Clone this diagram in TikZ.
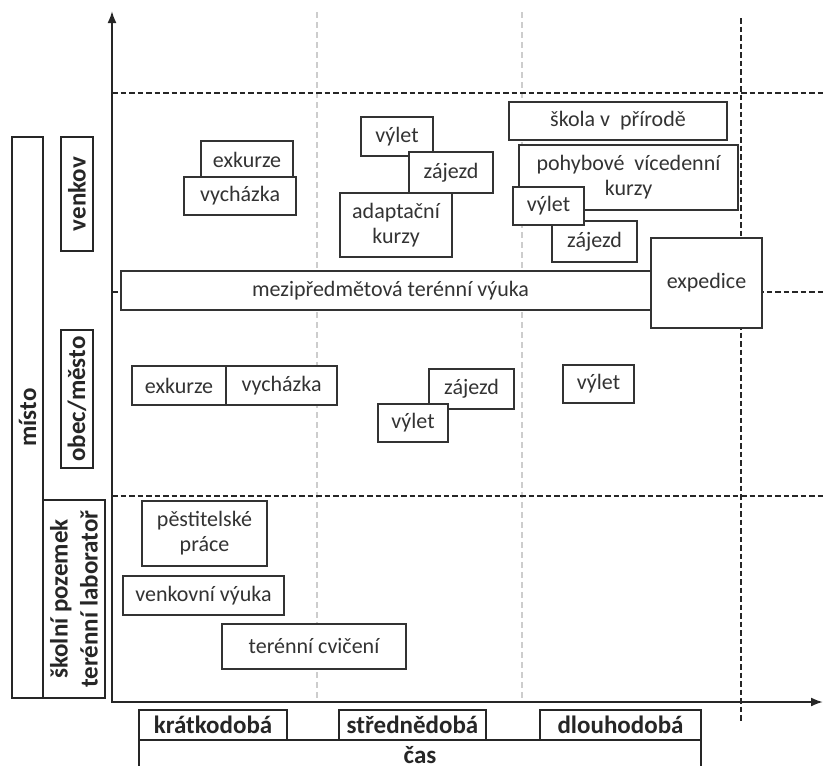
\documentclass[tikz,border=0pt]{standalone}
\usepackage{fontspec}
\setmainfont{Carlito}
\usetikzlibrary{arrows.meta}
\definecolor{ink}{HTML}{333333}
\definecolor{dark}{HTML}{262626}
\definecolor{gridgray}{HTML}{CDCDCD}
\tikzset{
  box/.style={draw=ink, line width=1.3pt, fill=white, inner sep=0pt, text=ink,
    font=\fontsize{22}{25}\selectfont, align=center},
  labelbox/.style={draw=dark, line width=2pt, fill=white, inner sep=0pt, text=dark,
    font=\fontsize{25}{30}\selectfont\bfseries, align=center},
  blackdash/.style={draw=dark, line width=1.8pt, dash pattern=on 5.5pt off 3pt},
  graydash/.style={draw=gridgray, line width=1.5pt, dash pattern=on 6pt off 4pt},
  axisline/.style={draw=dark, line width=2pt, {Latex[length=12pt,width=9pt]}-{Latex[length=12pt,width=9pt]}},
}
\newcommand\mkbox[7]{\node[#2, minimum width=#5-#3, minimum height=#6-#4] (#1) at ({(#3+#5)/2},{(#4+#6)/2}) {#7};}
\begin{document}
\begin{tikzpicture}[x=1pt,y=-1pt]
\useasboundingbox (0,0) rectangle (823,766);
% grid lines
\coordinate (g1t) at (317,12); \coordinate (g1b) at (317,702);
\coordinate (g2t) at (522,12); \coordinate (g2b) at (522,702);
\draw[graydash] (g1t) -- (g1b);
\draw[graydash] (g2t) -- (g2b);
\coordinate (vt) at (741,18); \coordinate (vb) at (741,722);
\draw[blackdash] (vt) -- (vb);
\coordinate (h1l) at (112,93); \coordinate (h1r) at (823,93);
\coordinate (h2l) at (112,292); \coordinate (h2r) at (823,292);
\coordinate (h3l) at (112,496); \coordinate (h3r) at (823,496);
\draw[blackdash] (h1l) -- (h1r);
\draw[blackdash] (h2l) -- (h2r);
\draw[blackdash] (h3l) -- (h3r);
% axes
\coordinate (O) at (112,702); \coordinate (ytip) at (112,11); \coordinate (xtip) at (823,702);
\draw[axisline] (ytip) -- (O) -- (xtip);
% venkov boxes
\mkbox{exA}{box}{201}{141}{293}{178}{exkurze}
\mkbox{vyA}{box}{184}{177}{296}{215}{vycházka}
\mkbox{vlA}{box}{361}{117}{433}{156}{výlet}
\mkbox{zaA}{box}{409}{152}{493}{193}{zájezd}
\mkbox{adA}{box}{340}{193}{452}{257}{adaptační\\kurzy}
\mkbox{sk}{box}{509}{102}{727}{140}{škola v\ \ přírodě}
\mkbox{po}{box}{519}{145}{738}{210}{pohybové\ \ vícedenní\\kurzy}
\mkbox{zaB}{box}{552}{221}{637}{262}{zájezd}
\mkbox{vlB}{box}{513}{187}{584}{225}{výlet}
\mkbox{mez}{box}{121}{271}{660}{310}{mezipředmětová terénní výuka}
\mkbox{expe}{box}{651}{238}{762}{328}{expedice}
% obec boxes
\mkbox{exB}{box}{132}{366}{226}{405}{exkurze}
\mkbox{vyB}{box}{226}{366}{337}{405}{vycházka}
\mkbox{zaC}{box}{429}{369}{514}{409}{zájezd}
\mkbox{vlC}{box}{378}{404}{448}{442}{výlet}
\mkbox{vlD}{box}{563}{365}{634}{403}{výlet}
% school boxes
\mkbox{pe}{box}{142}{501}{267}{566}{pěstitelské\\práce}
\mkbox{ve}{box}{123}{576}{284}{615}{venkovní výuka}
\mkbox{tc}{box}{222}{624}{406}{669}{terénní cvičení}
% time labels
\mkbox{kr}{labelbox}{139}{710}{287}{740}{krátkodobá}
\mkbox{st}{labelbox}{339}{710}{486}{740}{střednědobá}
\mkbox{dl}{labelbox}{540}{710}{701}{740}{dlouhodobá}
\mkbox{cas}{labelbox}{139}{740}{701}{770}{čas}
% place labels
\node[labelbox, rotate=90, minimum width=561, minimum height=31] (misto) at (27.5,417.5) {místo};
\node[labelbox, rotate=90, minimum width=114, minimum height=32] (venkov) at (77,194) {venkov};
\node[labelbox, rotate=90, minimum width=138, minimum height=32] (obec) at (77,399) {obec/město};
\node[labelbox, rotate=90, minimum width=198, minimum height=62] (skola) at (74,599) {školní pozemek\\terénní laboratoř};
\end{tikzpicture}
\end{document}
